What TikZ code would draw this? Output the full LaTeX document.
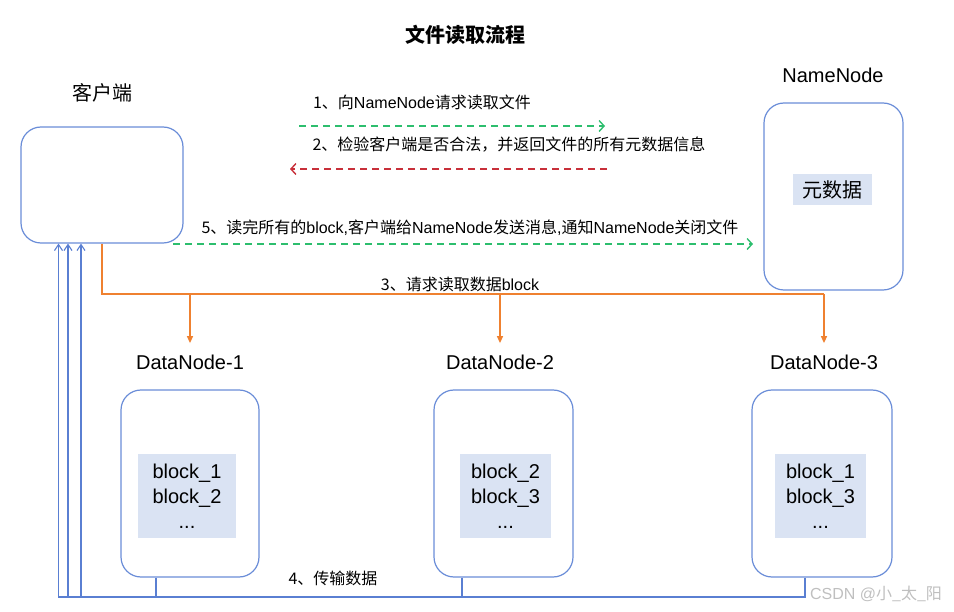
\documentclass[tikz,border=0pt]{standalone}
\usepackage{fontspec}
\setmainfont{Liberation Sans}
\newfontfamily\cjk{Noto Sans CJK SC}
\usetikzlibrary{arrows.meta}

\definecolor{boxblue}{HTML}{6A8DD8}
\definecolor{lineblue}{HTML}{5A7FD2}
\definecolor{fillblue}{HTML}{DAE3F3}
\definecolor{reqgreen}{HTML}{2DBE6E}
\definecolor{backred}{HTML}{C8303A}
\definecolor{readorange}{HTML}{EF8130}

\newcommand{\zh}[1]{{\cjk #1}}

\begin{document}
\begin{tikzpicture} [
    x=1pt, y=-1pt,
    big/.style      = { font=\fontsize{20}{24}\selectfont },
    small/.style    = { font=\fontsize{16}{19}\selectfont, inner sep=0pt },
    host/.style     = { rectangle, draw=boxblue, line width=1.2pt,
                        rounded corners=20pt, fill=white },
    meta/.style     = { rectangle, draw=none, fill=fillblue, align=center,
                        font=\fontsize{20}{25}\selectfont },
    req/.style      = { draw=reqgreen, line width=1.4pt, dash pattern=on 7pt off 5pt,
                        -{Straight Barb[length=5pt,width=11pt]} },
    back/.style     = { draw=backred, line width=1.4pt, dash pattern=on 7pt off 5pt,
                        -{Straight Barb[length=5pt,width=11pt]} },
    read/.style     = { draw=readorange, line width=1.3pt,
                        -{Triangle[length=7pt,width=6pt]} },
    data/.style     = { draw=lineblue, line width=1.1pt,
                        -{Straight Barb[length=6pt,width=8pt]} },
  ]

  \useasboundingbox (0,0) rectangle (954,612);

  % Define nodes
  \node[big, font=\fontsize{20}{24}\selectfont\bfseries] (title) at (465,35) {\zh{文件读取流程}};

  \node[big] (clienttitle) at (102,93) {\zh{客户端}};
  \node[host, minimum width=162pt, minimum height=116pt] (client) at (102,185) {};

  \node[big] (nntitle) at (833,75) {NameNode};
  \node[host, minimum width=139pt, minimum height=187pt] (namenode) at (833.5,196.5) {};
  \node[meta, minimum width=79pt, minimum height=31pt] (metadata) at (832.5,189.5) {\zh{元数据}};

  \node[big] (dn1title) at (190,362) {DataNode-1};
  \node[big] (dn2title) at (500,362) {DataNode-2};
  \node[big] (dn3title) at (824,362) {DataNode-3};

  \node[host, minimum width=138pt, minimum height=187pt] (dn1) at (190,483.5) {};
  \node[host, minimum width=139pt, minimum height=187pt] (dn2) at (503.5,483.5) {};
  \node[host, minimum width=140pt, minimum height=187pt] (dn3) at (822,483.5) {};

  \node[meta, minimum width=98pt, minimum height=84pt] (blocks1) at (187,496) {block\_1\\block\_2\\...};
  \node[meta, minimum width=91pt, minimum height=84pt] (blocks2) at (505.5,496) {block\_2\\block\_3\\...};
  \node[meta, minimum width=91pt, minimum height=84pt] (blocks3) at (820.5,496) {block\_1\\block\_3\\...};

  % free ends of the messages
  \coordinate (askfrom) at (299,126);
  \coordinate (askto)   at (605,126);
  \coordinate (ansfrom) at (607,169);
  \coordinate (ansto)   at (290,169);
  \coordinate (donefrom) at (173,244);
  \coordinate (doneto)   at (753,244);
  \coordinate (trunk)    at (102,294);

  % labels
  \node[small] (asklabel)  at (422,102) {\zh{1、向}NameNode\zh{请求读取文件}};
  \node[small] (anslabel)  at (509,145) {\zh{2、检验客户端是否合法，并返回文件的所有元数据信息}};
  \node[small] (donelabel) at (470,228) {\zh{5、读完所有的}block,\zh{客户端给}NameNode\zh{发送消息},\zh{通知}NameNode\zh{关闭文件}};
  \node[small] (readlabel) at (460,284) {\zh{3、请求读取数据}block};
  \node[small] (datalabel) at (333,578) {\zh{4、传输数据}};
  \node[small, text=black!25] (mark) at (876,594) {CSDN @\zh{小\_太\_阳}};

  % connect the nodes
		\path [req]  (askfrom) -- (askto);
		\path [back] (ansfrom) -- (ansto);
		\path [req]  (donefrom) -- (doneto);

		\draw [readorange, line width=1.3pt] (client.south) -- (trunk) -- (trunk -| dn3title);
		\path [read] (trunk -| dn1title) -- ([yshift=8pt]dn1title.north);
		\path [read] (trunk -| dn2title) -- ([yshift=8pt]dn2title.north);
		\path [read] (trunk -| dn3title) -- ([yshift=8pt]dn3title.north);

		\path [data] ([xshift=-34pt]dn1.south) |- (81,597) -- (client.south -| 81,0);
		\path [data] ([xshift=-41.5pt]dn2.south) |- (68,597) -- (client.south -| 68,0);
		\path [data] ([xshift=-17pt]dn3.south) |- (58.5,597) -- (client.south -| 58.5,0);
\end{tikzpicture}
\end{document}
